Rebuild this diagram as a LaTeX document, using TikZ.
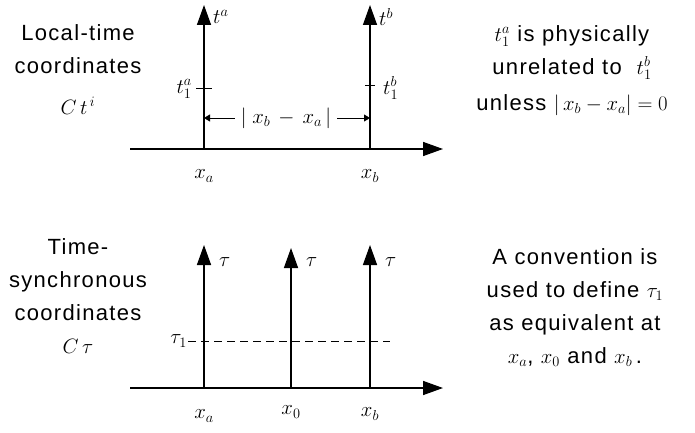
\documentclass[tikz,border=0pt]{standalone}
\usepackage{fontspec}
\setmainfont{Liberation Sans}[LetterSpace=6]
\usetikzlibrary{arrows.meta}
\begin{document}
\begin{tikzpicture}[
        x=1pt, y=-1pt,
        axis/.style={-{Triangle[length=20pt, width=14pt]}, line width=1.5pt},
        gap/.style={-{Triangle[length=6pt, width=7pt]}, line width=1pt},
        tick/.style={line width=1pt},
        sync/.style={line width=1pt, dash pattern=on 8pt off 5pt},
        note/.style={align=center, inner sep=0pt, anchor=north},
        lbl/.style={inner sep=1pt},
        every node/.style={font=\fontsize{22}{33}\selectfont}
        ]
      \useasboundingbox (0,0) rectangle (695,433);

      % local-time coordinates
      \coordinate (oa) at (204,149);
      \coordinate (ob) at (370,149);
      \coordinate (ta) at (204,5);
      \coordinate (tb) at (370,5);
      \coordinate (h0) at (130,149);
      \coordinate (h1) at (443,149);
      \draw[axis] (h0) -- (h1);
      \draw[axis] (oa) -- (ta);
      \draw[axis] (ob) -- (tb);
      \node[lbl, anchor=west] (lta) at (212,17) {$t^{a}$};
      \node[lbl, anchor=west] (ltb) at (378,17) {$t^{b}$};
      \node[lbl] (xa) at (204,176) {$x_a$};
      \node[lbl] (xb) at (370,176) {$x_b$};
      \coordinate (ka) at (204,89);
      \coordinate (kb) at (370,86);
      \draw[tick] ([xshift=-8pt]ka) -- ([xshift=8pt]ka);
      \draw[tick] ([xshift=-5pt]kb) -- ([xshift=5pt]kb);
      \node[lbl, anchor=east] (t1a) at (193,89) {$t_1^{a}$};
      \node[lbl, anchor=west] (t1b) at (382,88) {$t_1^{b}$};
      \node[inner sep=6pt] (dist) at (286,118) {$|\;x_b\,-\,x_a\,|$};
      \draw[gap] (dist.west) -- (dist.west -| oa);
      \draw[gap] (dist.east) -- (dist.east -| ob);

      \node[note] (loc) at (78,24) {Local-time\\coordinates\\[8pt]$C\,t^{\,i}$};
      \node[note] (unrel) at (572,25) {$t_1^{a}$\ is physically\\unrelated to\ \ $t_1^{b}$\\[3pt]unless $|\,x_b - x_a| = 0$};

      % time-synchronous coordinates
      \coordinate (sa) at (204,388);
      \coordinate (s0) at (291,388);
      \coordinate (sb) at (370,388);
      \coordinate (ua) at (204,245);
      \coordinate (u0) at (291,248);
      \coordinate (ub) at (370,245);
      \coordinate (g0) at (130,388);
      \coordinate (g1) at (443,388);
      \draw[axis] (g0) -- (g1);
      \draw[axis] (sa) -- (ua);
      \draw[axis] (s0) -- (u0);
      \draw[axis] (sb) -- (ub);
      \node[lbl, anchor=west] (tau1) at (218,262) {$\tau$};
      \node[lbl, anchor=west] (tau2) at (305,262) {$\tau$};
      \node[lbl, anchor=west] (tau3) at (384,262) {$\tau$};
      \node[lbl] (ya) at (204,416) {$x_a$};
      \node[lbl] (y0) at (291,412) {$x_0$};
      \node[lbl] (yb) at (370,414) {$x_b$};
      \coordinate (d0) at (188,341);
      \coordinate (d1) at (390,341);
      \draw[sync] (d0) -- (d1);
      \node[lbl, anchor=east] (tau0) at (d0) {$\tau_1$};

      \node[note] (syncnote) at (78,238) {Time-\\synchronous\\coordinates\\$C\,\tau$};
      \node[note] (conv) at (575,248) {A convention is\\used to define $\tau_1$\\as equivalent at\\$x_a$,\ $x_0$ and $x_b$\,.};
    \end{tikzpicture}
\end{document}
